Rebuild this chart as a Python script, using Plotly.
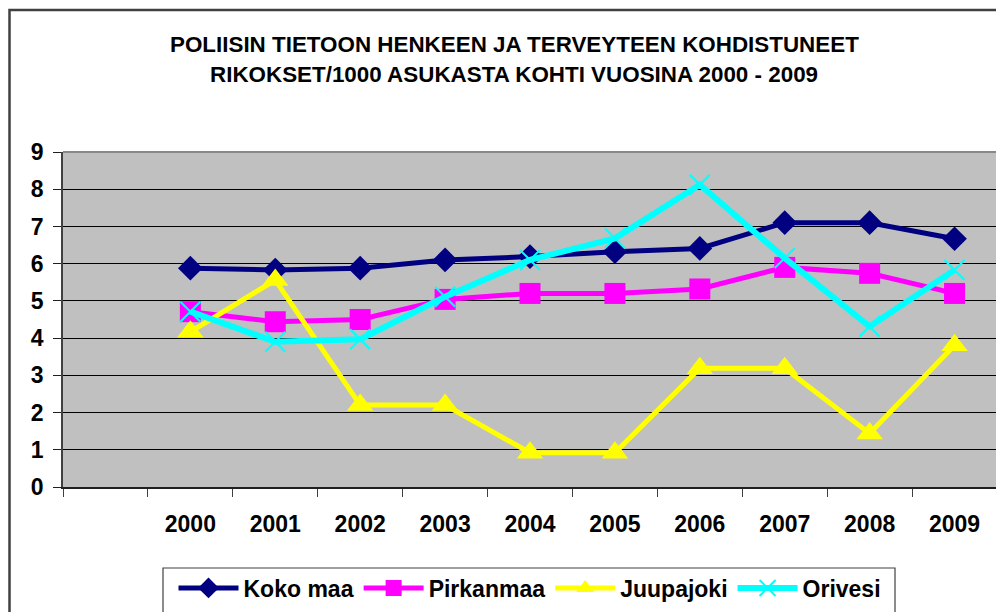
import plotly.graph_objects as go

years = ["2000", "2001", "2002", "2003", "2004", "2005", "2006", "2007", "2008", "2009"]
koko_maa = [5.88, 5.83, 5.88, 6.10, 6.19, 6.32, 6.41, 7.10, 7.10, 6.67]
pirkanmaa = [4.71, 4.44, 4.50, 5.04, 5.20, 5.20, 5.32, 5.90, 5.74, 5.20]
juupajoki = [4.17, 5.56, 2.20, 2.20, 0.92, 0.92, 3.19, 3.19, 1.44, 3.81]
orivesi = [4.71, 3.90, 3.97, 5.11, 6.10, 6.68, 8.12, 6.15, 4.31, 5.83]

title_lines = ["POLIISIN TIETOON HENKEEN JA TERVEYTEEN KOHDISTUNEET",
               "RIKOKSET/1000 ASUKASTA KOHTI VUOSINA 2000 - 2009"]

series = [
    ("Koko maa", koko_maa, "#000080", "diamond", 19, 5),
    ("Pirkanmaa", pirkanmaa, "#FF00FF", "square", 21, 5),
    ("Juupajoki", juupajoki, "#FFFF00", "triangle-up", 23, 5),
    ("Orivesi", orivesi, "#00FFFF", "x-thin-open", 20, 6),
]

FONT = "Liberation Sans, Arial, sans-serif"

fig = go.Figure()
for name, vals, col, sym, msize, lw in series:
    marker = dict(symbol=sym, size=msize, color=col)
    if sym == "x-thin-open":
        marker["line"] = dict(color=col, width=2)
    fig.add_trace(go.Scatter(
        x=years, y=vals, name=name, mode="lines+markers",
        line=dict(color=col, width=lw), marker=marker,
    ))

# page body has an 8px margin; figure is sized/offset to compensate
fig.update_layout(
    width=996, height=604,
    margin=dict(l=55, r=7, t=144, b=125, autoexpand=False),
    paper_bgcolor="white", plot_bgcolor="#C0C0C0",
    font=dict(family=FONT, color="black"),
    legend=dict(
        orientation="h", x=0.5, xanchor="center", y=-0.3015, yanchor="middle",
        font=dict(size=23, family=FONT, weight="bold", color="black"),
        bgcolor="rgba(0,0,0,0)", itemwidth=60, tracegroupgap=0,
    ),
    showlegend=True,
)

for line, ypx in zip(title_lines, [44, 74]):
    fig.add_annotation(
        text=line, xref="paper", yref="paper",
        x=(514 - 63) / 934, y=1 - (ypx - 152) / 335,
        xanchor="center", yanchor="middle", showarrow=False,
        font=dict(size=22.4, family=FONT, weight="bold", color="black"),
    )

fig.update_xaxes(
    type="category", categoryarray=[" "] + years, range=[-0.5, 10.5],
    tickson="boundaries", ticks="outside", ticklen=8, tickcolor="#404040",
    showline=True, linecolor="#202020", linewidth=1.5,
    showgrid=False, zeroline=False,
    tickfont=dict(size=23, family=FONT, weight="bold", color="black"),
    ticklabelstandoff=16,
)
fig.update_yaxes(
    range=[0, 9], dtick=1, tick0=0,
    ticks="outside", ticklen=8, tickcolor="#202020",
    showline=True, linecolor="#404040", linewidth=1.5,
    showgrid=True, gridcolor="#000000", gridwidth=1.2,
    zeroline=False,
    tickfont=dict(size=23, family=FONT, weight="bold", color="black"),
    ticklabelstandoff=5,
)

fig.add_shape(type="line", xref="paper", yref="paper", x0=0, x1=1, y0=1, y1=1,
              line=dict(color="#888888", width=2))
fig.add_shape(type="line", xref="paper", yref="paper", x0=1, x1=1, y0=0, y1=1,
              line=dict(color="#888888", width=2))
fig.add_shape(type="rect", xref="paper", yref="paper",
              x0=(9.5 - 63) / 934, x1=(1012 - 63) / 934,
              y0=1 - (625 - 152) / 335, y1=1 - (10 - 152) / 335,
              line=dict(color="#404040", width=2.5), layer="below")
fig.add_shape(type="rect", xref="paper", yref="paper",
              x0=(163 - 63) / 934, x1=(895 - 63) / 934,
              y0=1 - (620 - 152) / 335, y1=1 - (568 - 152) / 335,
              line=dict(color="#404040", width=1.2), layer="below")

fig.write_html("out.html")
